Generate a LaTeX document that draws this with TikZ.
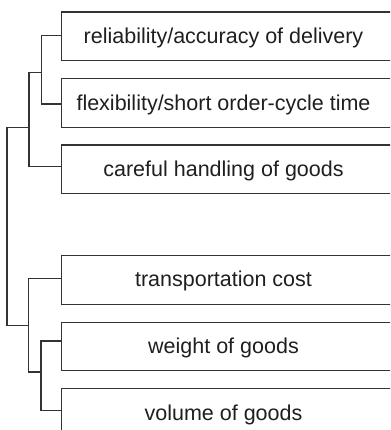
\documentclass[tikz,border=0pt]{standalone}
\usepackage{fontspec}
\setmainfont{Liberation Sans}
\begin{document}
\begin{tikzpicture}[x=1pt,y=-1pt,
  box/.style={draw=black!80,line width=1.1pt,rectangle,inner sep=0pt,anchor=north west,
    minimum width=360pt,minimum height=48.5pt},
  lbl/.style={anchor=base,inner sep=0pt,text=black!88,font=\fontsize{21.5}{25}\selectfont},
  conn/.style={draw=black!80,line width=1.1pt}]
\useasboundingbox (0,0) rectangle (390,430);
\clip (0,0) rectangle (390,430);
\fill[white] (0,0) rectangle (390,430);
% boxes
\node[box] (b1) at (61.3,11.5) {};
\node[box] (b2) at (61.3,78.3) {};
\node[box] (b3) at (61.3,144.5) {};
\node[box] (b4) at (61.3,255) {};
\node[box] (b5) at (61.3,321.7) {};
\node[box] (b6) at (61.3,388.3) {};
% labels
\node[lbl] (l1) at (223.5,43.3) {reliability/accuracy of delivery};
\node[lbl] (l2) at (223.5,110.2) {flexibility/short order-cycle time};
\node[lbl] (l3) at (223.5,176.4) {careful handling of goods};
\node[lbl] (l4) at (223.5,286.8) {transportation cost};
\node[lbl] (l5) at (223.5,353.6) {weight of goods};
\node[lbl] (l6) at (223.5,420.2) {volume of goods};
% attach points
\coordinate (p1) at (61.3,35.3);
\coordinate (p2) at (61.3,104);
\coordinate (p3) at (61.3,166.8);
\coordinate (p4) at (61.3,278.5);
\coordinate (p5) at (61.3,341);
\coordinate (p6) at (61.3,410.7);
% junctions
\coordinate (j1) at (41.5,72.7);
\coordinate (j2) at (29,127.8);
\coordinate (r) at (7,325.7);
\coordinate (j3) at (28.5,325.7);
\coordinate (j4) at (41,372);
% tree
\draw[conn] (p1) -| (j1) |- (p2);
\draw[conn] (j1) -| (j2) |- (p3);
\draw[conn] (j2) -| (r) -- (j3);
\draw[conn] (p4) -| (j3) |- (j4);
\draw[conn] (p5) -| (j4) |- (p6);
\end{tikzpicture}
\end{document}
